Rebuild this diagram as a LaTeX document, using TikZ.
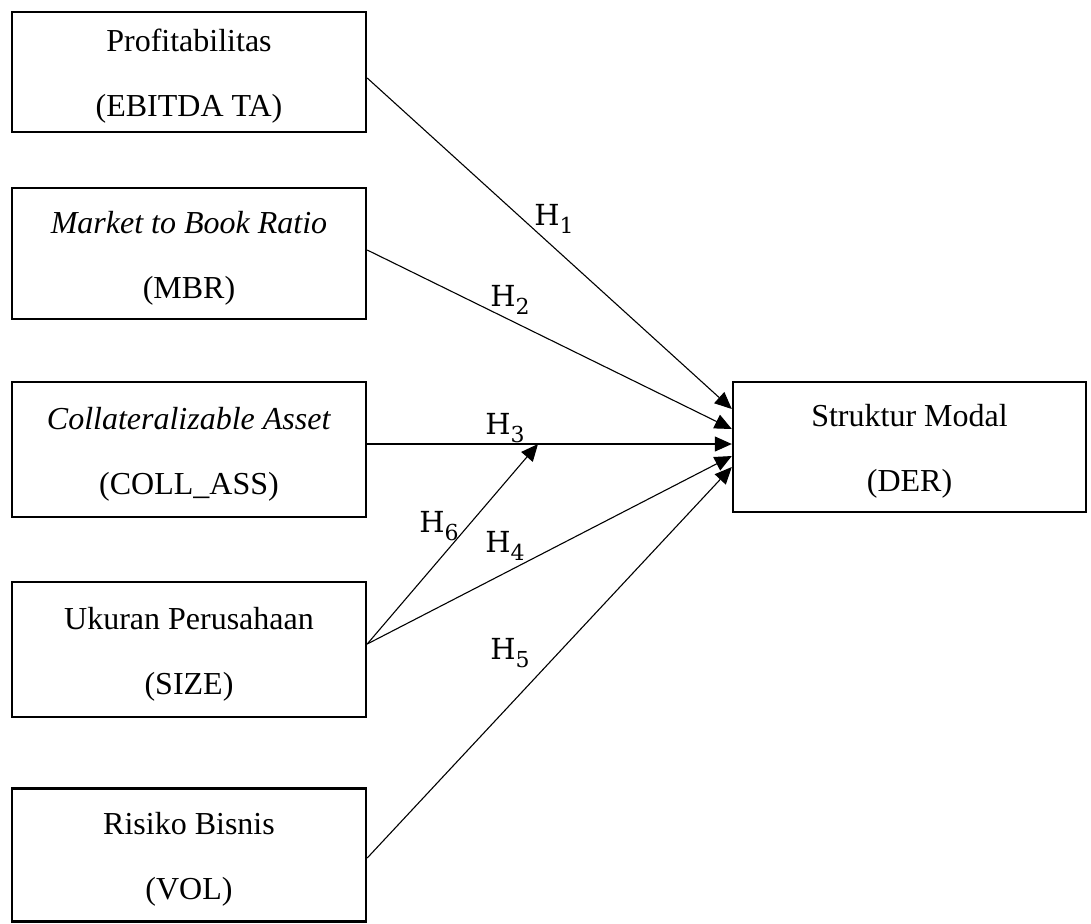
\documentclass[tikz,border=0pt]{standalone}
\usepackage{fontspec}
\setmainfont{Liberation Serif}
\newfontfamily\hfont{DejaVu Serif}
\usetikzlibrary{arrows.meta,calc}
\newcommand\hlab[1]{{\hfont H\raisebox{-0.5ex}{\fontsize{11}{11}\selectfont #1}}}
\newcommand\topstrut{\rule{0pt}{15.5pt}}
\begin{document}
\begin{tikzpicture}[x=0.5pt,y=-0.5pt,
  varbox/.style={draw,line width=1.2pt,minimum width=177pt,inner sep=0pt,align=center,
    font=\fontsize{16}{32.5}\selectfont},
  conn/.style={line width=0.55pt,-{Triangle[length=8.5pt,width=7.5pt]}},
  hl/.style={inner sep=0pt,font=\fontsize{14.5}{14.5}\selectfont}]
\useasboundingbox (0,0) rectangle (1091,923);
\node[varbox,minimum height=60pt] (prof) at (189,72) {\topstrut Profitabilitas\\(EBITDA TA)};
\node[varbox,minimum height=65.5pt] (mbr) at (189,253.5) {\topstrut\textit{Market to Book Ratio}\\(MBR)};
\node[varbox,minimum height=67.5pt] (coll) at (189,449.5) {\topstrut\textit{Collateralizable Asset}\\(COLL\_ASS)};
\node[varbox,minimum height=67.5pt] (size) at (189,649.5) {\topstrut Ukuran Perusahaan\\(SIZE)};
\node[varbox,minimum height=66.5pt] (vol) at (189,855) {\topstrut Risiko Bisnis\\(VOL)};
\node[varbox,minimum width=176.5pt,minimum height=65pt] (der) at (909.5,447) {\topstrut Struktur Modal\\(DER)};
\coordinate (t1) at ($(der.west)+(0,-38)$);
\coordinate (t2) at ($(der.west)+(0,-18)$);
\coordinate (t3) at ($(der.west)+(0,-3)$);
\coordinate (t4) at ($(der.west)+(0,9)$);
\coordinate (t5) at ($(der.west)+(0,20)$);
\coordinate (s1) at ($(prof.east)+(0,6)$);
\coordinate (s2) at ($(mbr.east)+(0,-3.5)$);
\coordinate (s3) at ($(coll.east)+(0,-5.5)$);
\coordinate (s4) at ($(size.east)+(0,-5.5)$);
\coordinate (s5) at ($(vol.east)+(0,3)$);
\coordinate (t6) at (538,444);
\draw[conn] (s1) -- (t1);
\draw[conn] (s2) -- (t2);
\draw[conn] (s3) -- (t3);
\draw[conn] (s4) -- (t4);
\draw[conn] (s5) -- (t5);
\draw[conn] (s4) -- (t6);
\node[hl] (l1) at (554,219) {\hlab{1}};
\node[hl] (l2) at (510,300) {\hlab{2}};
\node[hl] (l3) at (505,428) {\hlab{3}};
\node[hl] (l6) at (439,526) {\hlab{6}};
\node[hl] (l4) at (505,546) {\hlab{4}};
\node[hl] (l5) at (510,653) {\hlab{5}};
\end{tikzpicture}
\end{document}
